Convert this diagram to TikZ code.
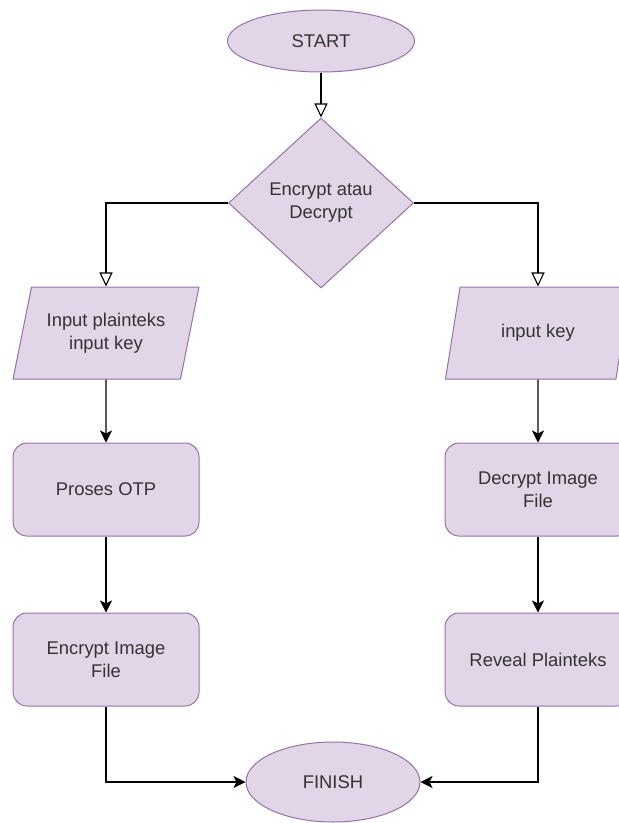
\documentclass[tikz,border=0pt]{standalone}
\usepackage{fontspec}
\setmainfont{Liberation Sans}
\usepackage{xcolor}
\usetikzlibrary{shapes,arrows.meta,positioning}
\definecolor{boxfill}{HTML}{E1D5E7}
\definecolor{boxline}{HTML}{9673A6}
\definecolor{textgrey}{HTML}{333333}

\begin{document}
\begin{tikzpicture}[
    x=1pt,y=-1pt,line width=1pt,
    font=\fontsize{18.4}{23}\selectfont,
    >={Stealth[length=12pt,width=12pt,inset=3pt]},
  base/.style={draw=boxline,fill=boxfill,text=textgrey,align=center,inner sep=2pt},
  term/.style={base,ellipse,minimum width=187pt,minimum height=62pt},
  decision/.style={base,diamond,minimum width=185pt,minimum height=170pt},
  io/.style={base,trapezium,trapezium left angle=71,trapezium right angle=109,
    trapezium stretches=true,minimum width=186pt,minimum height=92pt},
  process/.style={base,rectangle,rounded corners=14pt,minimum width=186pt,minimum height=93pt},
  hollow/.style={-{Triangle[open,length=14pt,width=13pt]},line width=1.1pt},
  flow/.style={->,line width=1.1pt},
]
  \useasboundingbox (0,0) rectangle (619,823);

  \node[term] (start) at (321,41) {START};
  \node[decision] (choice) [below=45pt of start] {Encrypt atau\\Decrypt};

  \node[io] (inEnc) at (106,333) {Input plainteks\\input key};
  \node[process] (otp) [below=63pt of inEnc] {Proses OTP};
  \node[process] (encImg) [below=76pt of otp] {Encrypt Image\\File};

  \node[io] (inDec) at (538,333) {input key};
  \node[process] (decImg) [below=63pt of inDec] {Decrypt Image\\File};
  \node[process] (reveal) [below=76pt of decImg] {Reveal Plainteks};

  \node[term,minimum width=174pt,minimum height=80pt] (finish) at (333,782) {FINISH};

  \draw[hollow] (start) -- (choice);
  \draw[hollow] (choice.west) -| (inEnc);
  \draw[hollow] (choice.east) -| (inDec);

  \draw[flow] (inEnc) -- (otp);
  \draw[flow] (otp) -- (encImg);
  \draw[flow] (encImg) |- (finish);

  \draw[flow] (inDec) -- (decImg);
  \draw[flow] (decImg) -- (reveal);
  \draw[flow] (reveal) |- (finish);
\end{tikzpicture}
\end{document}
